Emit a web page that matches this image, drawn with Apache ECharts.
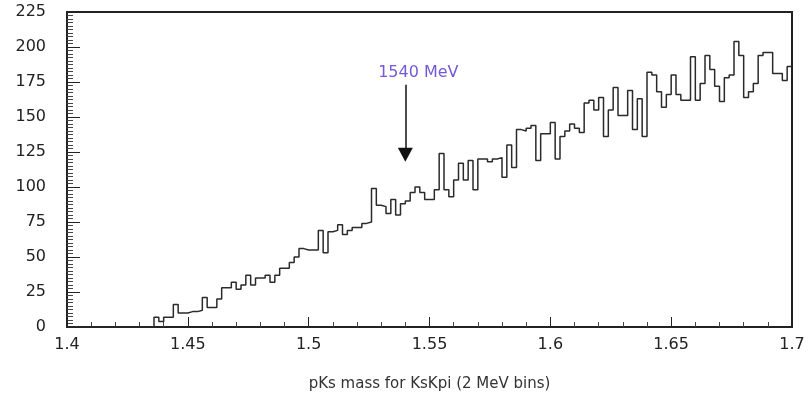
<!DOCTYPE html>
<html>
<head>
<meta charset="utf-8">
<script src="https://cdn.jsdelivr.net/npm/echarts@6/dist/echarts.min.js"></script>
<style>
  html, body { margin: 0; padding: 0; background: #fff; }
  #chart { width: 809px; height: 404px; }
</style>
</head>
<body>
<div id="chart"></div>
<script>
// pK0s invariant mass spectrum, 2 MeV bins from 1.400 to 1.700 GeV
const massMin = 1.4;
const massMax = 1.7;
const binWidth = 0.002;

// entries per bin (150 bins)
const counts = [
  0, 0, 0, 0, 0, 0, 0, 0, 0, 0,
  0, 0, 0, 0, 0, 0, 0, 0, 7, 4,
  7, 7, 16, 10, 10, 11, 11, 12, 21, 14,
  14, 20, 28, 28, 32, 27, 30, 37, 30, 35,
  35, 37, 32, 37, 42, 42, 46, 50, 56, 55,
  55, 55, 69, 53, 68, 69, 73, 66, 69, 71,
  71, 74, 75, 99, 87, 86, 81, 91, 80, 88,
  90, 96, 100, 96, 91, 91, 98, 124, 98, 93,
  105, 117, 105, 119, 98, 120, 120, 118, 120, 121,
  107, 130, 114, 141, 140, 142, 144, 119, 138, 138,
  146, 120, 136, 140, 145, 142, 139, 160, 162, 155,
  164, 136, 155, 171, 151, 151, 169, 141, 163, 136,
  182, 180, 168, 157, 166, 180, 166, 162, 162, 193,
  162, 174, 194, 184, 172, 161, 178, 180, 204, 194,
  164, 168, 174, 194, 196, 196, 181, 181, 176, 186
];

// axis ranges and labels
const countMax = 225;
const countStep = 25;
const massStep = 0.05;
const xTitle = 'pKs mass for KsKpi (2 MeV bins)';

// arrow marking the expected resonance position
const markMassMeV = 1540;
const markLabel = '1540 MeV';
const arrowTop = 173;
const arrowTip = 123;

// bin left edges with a closing point at the upper limit, drawn as steps
const steps = counts.map((c, i) => [massMin + i * binWidth, c]);
steps.push([massMax, counts[counts.length - 1]]);

const labelFont = 'DejaVu Sans';

const chart = echarts.init(document.getElementById('chart'), null, { renderer: 'canvas' });
chart.setOption({
  animation: false,
  backgroundColor: '#ffffff',
  grid: {
    left: 67, right: 17, top: 12, bottom: 77,
    show: true, borderColor: '#222', borderWidth: 2, backgroundColor: 'transparent'
  },
  xAxis: {
    type: 'value',
    min: massMin, max: massMax, interval: massStep,
    name: xTitle,
    nameLocation: 'middle',
    nameGap: 50,
    nameTextStyle: { fontFamily: labelFont, fontSize: 15, color: '#333' },
    axisLine: { onZero: false, lineStyle: { color: '#222', width: 2 } },
    axisTick: { inside: true, length: 10, lineStyle: { color: '#222', width: 1 } },
    minorTick: { show: true, splitNumber: 5, length: 5, lineStyle: { color: '#444', width: 1 } },
    splitLine: { show: false },
    axisLabel: {
      margin: 10, fontFamily: labelFont, fontSize: 16, color: '#222',
      formatter: v => String(parseFloat(v.toFixed(3)))
    }
  },
  yAxis: {
    type: 'value',
    min: 0, max: countMax, interval: countStep,
    axisLine: { show: true, lineStyle: { color: '#222', width: 2 } },
    axisTick: { show: true, inside: true, length: 13, lineStyle: { color: '#222', width: 1 } },
    minorTick: { show: true, splitNumber: 10, length: 6, lineStyle: { color: '#444', width: 1 } },
    splitLine: { show: false },
    axisLabel: { margin: 21, fontFamily: labelFont, fontSize: 16, color: '#222' }
  },
  series: [{
    type: 'line',
    data: steps,
    step: 'end',
    showSymbol: false,
    symbol: 'none',
    lineStyle: { color: '#2a2a2a', width: 1.5 },
    markLine: {
      silent: true,
      symbol: ['none', 'triangle'],
      symbolSize: [15, 14],
      lineStyle: { color: '#111', width: 1.5, type: 'solid' },
      label: {
        show: true, position: 'start', distance: 4,
        padding: [0, 0, 0, 26],
        formatter: markLabel,
        fontFamily: labelFont, fontSize: 16, color: '#7459d9'
      },
      data: [[
        { coord: [markMassMeV / 1000, arrowTop] },
        { coord: [markMassMeV / 1000, arrowTip] }
      ]]
    }
  }]
});
</script>
</body>
</html>
